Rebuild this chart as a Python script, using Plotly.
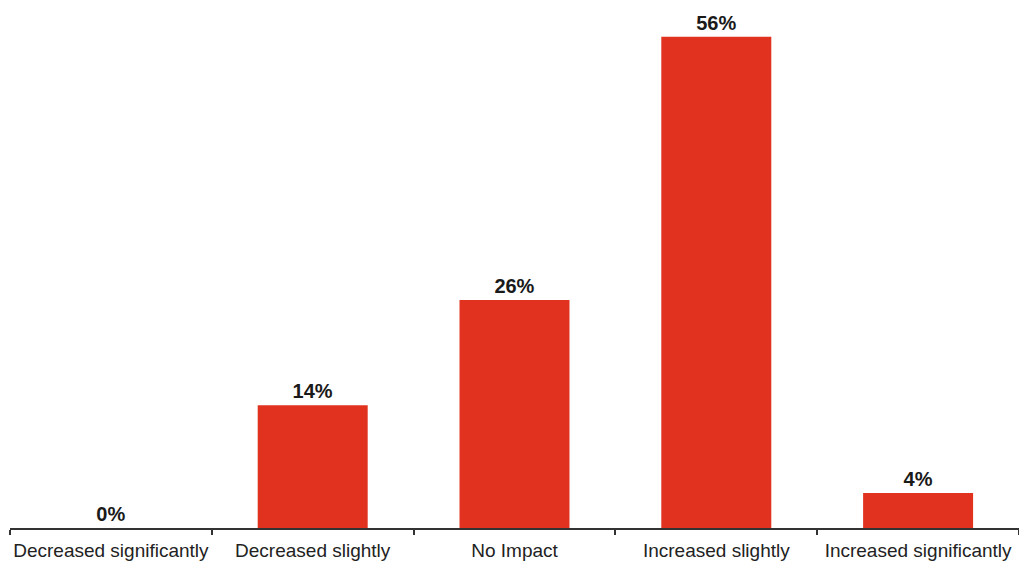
import plotly.graph_objects as go

categories = ["Decreased significantly", "Decreased slightly", "No Impact", "Increased slightly", "Increased significantly"]
values = [0, 14, 26, 56, 4]
labels = ["0%", "14%", "26%", "56%", "4%"]

fig = go.Figure(go.Bar(
    x=categories, y=values, text=labels, textposition="outside",
    marker=dict(color="#E0321F", line=dict(width=0)),
    width=0.545, cliponaxis=False,
    textfont=dict(family="Liberation Sans, Arial", size=20, color="#1a1a1a", weight="bold"),
))
fig.update_layout(
    width=1019, height=565, margin=dict(l=10, r=0, t=0, b=37, autoexpand=False),
    plot_bgcolor="white", paper_bgcolor="white", showlegend=False,
    font=dict(family="Liberation Sans, Arial", size=16, color="#222"),
)
fig.update_xaxes(showline=True, linecolor="#333", linewidth=1.5, ticks="outside",
                 tickson="boundaries", ticklen=5, tickcolor="#333", tickwidth=1.5,
                 ticklabelstandoff=4, tickangle=0, automargin=False,
                 tickfont=dict(size=19, color="#222"), showgrid=False)
fig.update_yaxes(range=[0, 60.2], visible=False, showgrid=False, automargin=False)
fig.write_html("out.html")
